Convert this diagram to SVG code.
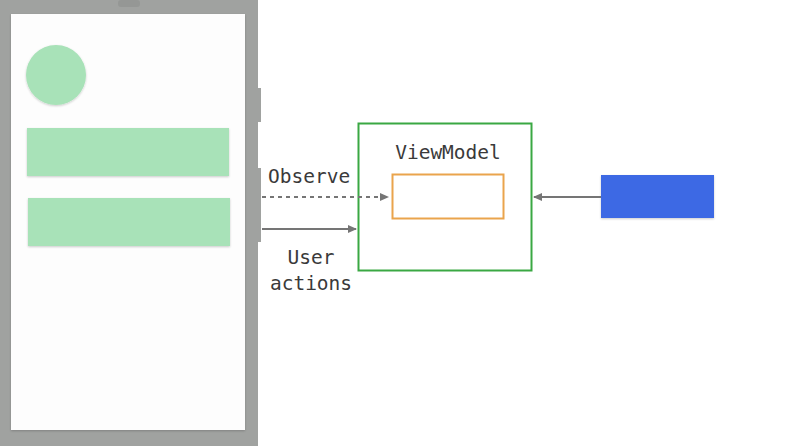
<svg xmlns="http://www.w3.org/2000/svg" width="800" height="446" viewBox="0 0 800 446">
<defs>
<style>
.lbl{font-family:"DejaVu Sans Mono","Liberation Mono",monospace;font-size:19.5px;fill:#3a3a3a;}
.conn{stroke:#757575;stroke-width:2;fill:none;}
.item{fill:#a8e2b8;}
</style>
<marker id="ah" markerWidth="10" markerHeight="10" refX="8" refY="5" orient="auto" markerUnits="userSpaceOnUse">
<path d="M0,1 L9,5 L0,9 Z" fill="#757575"/>
</marker>
<filter id="sh" x="-10%" y="-10%" width="120%" height="130%">
<feDropShadow dx="0" dy="1" stdDeviation="1" flood-color="#000" flood-opacity="0.2"/>
</filter>
</defs>
<rect x="0" y="0" width="800" height="446" fill="#ffffff"/>
<g id="phone">
<rect x="0" y="0" width="258" height="446" fill="#a0a2a0"/>
<rect x="118" y="0" width="22" height="7" rx="3" fill="#959795"/>
<rect x="257" y="88" width="4" height="34" fill="#a0a2a0"/>
<rect x="257" y="168" width="4" height="74" fill="#a0a2a0"/>
<rect x="11" y="14" width="234" height="416" fill="#fdfdfd" filter="url(#sh)"/>
<circle cx="56" cy="75" r="30" class="item" filter="url(#sh)"/>
<rect x="27" y="128" width="202" height="48" class="item" filter="url(#sh)"/>
<rect x="28" y="198" width="202" height="48" class="item" filter="url(#sh)"/>
</g>
<g id="viewmodel">
<rect x="358.5" y="123.5" width="173" height="147" fill="none" stroke="#3aa843" stroke-width="2"/>
<text x="448" y="159" class="lbl" text-anchor="middle">ViewModel</text>
<rect x="392.5" y="174.5" width="111" height="44" fill="#fff" stroke="#eaa44c" stroke-width="2"/>
</g>
<g id="repository">
<rect x="601" y="175" width="113" height="43" fill="#3e69e4" filter="url(#sh)"/>
</g>
<g id="connectors">
<line x1="262" y1="197" x2="388" y2="197" class="conn" stroke-dasharray="4,4"/>
<line x1="262" y1="229" x2="356" y2="229" class="conn" marker-end="url(#ah)"/>
<line x1="601" y1="197" x2="534" y2="197" class="conn" marker-end="url(#ah)"/>
<path d="M380,193 L389,197 L380,201 Z" fill="#757575"/>
</g>
<g id="labels">
<text x="268" y="183" class="lbl">Observe</text>
<text x="311" y="264" class="lbl" text-anchor="middle">User</text>
<text x="311" y="290" class="lbl" text-anchor="middle">actions</text>
</g>
</svg>
